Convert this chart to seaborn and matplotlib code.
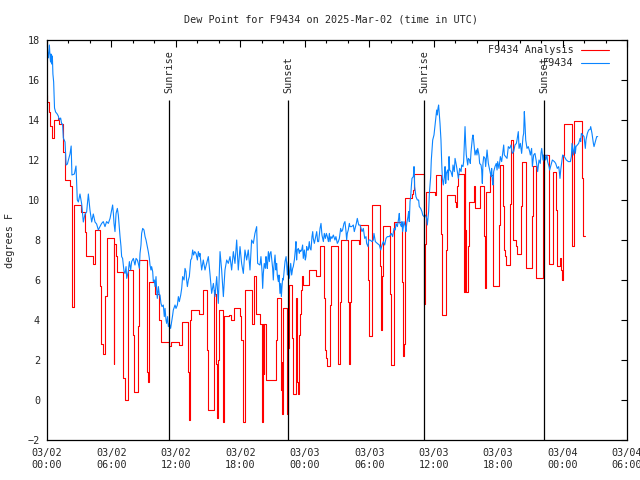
import numpy as np
import pandas as pd
import matplotlib
matplotlib.use("Agg")
import matplotlib.pyplot as plt
import matplotlib.dates as mdates
import seaborn as sns

# ---------------- data ----------------
title = "Dew Point for F9434 on 2025-Mar-02 (time in UTC)"
ylabel = "degrees F"
series_names = ["F9434 Analysis", "F9434"]
start = pd.Timestamp("2025-03-02 00:00")
end = pd.Timestamp("2025-03-04 06:00")

sun_hours = [11.38, 22.45, 35.12, 46.28]
sun_labels = ["Sunrise", "Sunset", "Sunrise", "Sunset"]

# Analysis (step series): hours since start, value
red_hours = [0.00, 0.03, 0.19, 0.28, 0.43, 0.65, 1.05, 1.15, 1.52, 1.68, 2.14, 2.36, 2.50,
             3.20, 3.54, 3.63, 4.31, 4.47, 4.97, 5.06, 5.20, 5.40, 5.55, 6.20, 6.28, 6.42,
             6.55, 7.04, 7.10, 7.26, 7.50, 7.56, 8.04, 8.10, 8.50, 8.60, 9.28, 9.40, 9.50,
             10.06, 10.46, 10.58, 11.39, 11.50, 12.30, 12.54, 13.16, 13.22, 13.30, 13.45,
             14.15, 14.50, 14.90, 15.00, 15.52, 15.62, 15.76, 15.86, 15.93, 16.00, 16.40,
             16.48, 16.95, 17.10, 17.40, 17.95, 18.10, 18.22, 18.40, 19.10, 19.28, 19.42,
             19.86, 20.00, 20.10, 20.18, 20.24, 20.36, 20.43, 21.35, 21.42, 21.76, 21.85,
             21.92, 21.98, 22.30, 22.36, 22.44, 22.50, 22.85, 22.92, 23.16, 23.22, 23.28,
             23.36, 23.44, 23.60, 23.66, 23.72, 23.84, 24.40, 25.00, 25.40, 25.76, 25.85,
             26.00, 26.10, 26.38, 26.44, 27.06, 27.12, 27.31, 27.37, 28.02, 28.12, 28.24,
             28.30, 29.02, 29.10, 29.92, 30.00, 30.22, 30.30, 31.00, 31.06, 31.12, 31.19,
             31.25, 31.95, 32.05, 32.28, 33.02, 33.12, 33.22, 33.30, 33.95, 34.08, 34.15,
             35.08, 35.16, 35.30, 36.12, 36.25, 36.65, 36.74, 36.82, 37.12, 37.22, 37.99,
             38.10, 38.20, 38.28, 38.82, 38.88, 38.95, 39.02, 39.20, 39.30, 39.80, 39.88,
             40.28, 40.35, 40.72, 40.78, 40.85, 41.20, 41.28, 41.50, 42.12, 42.20, 42.45,
             42.55, 42.68, 42.76, 43.12, 43.18, 43.38, 43.70, 43.76, 44.15, 44.22, 44.56,
             44.62, 45.20, 45.27, 45.55, 46.22, 46.70, 46.78, 47.15, 47.40, 47.46, 47.78,
             47.86, 47.95, 48.02, 48.08, 48.16, 48.85, 48.92, 49.10, 49.80, 49.88, 50.10]
red_values = [15.25, 14.9, 14.4, 13.7, 13.1, 14.0, 14.1, 13.8, 12.4, 11.0, 10.7, 4.65, 9.75,
              9.4, 8.4, 7.2, 6.8, 8.5, 5.7, 2.8, 2.3, 5.2, 8.1, 1.8, 7.8, 7.2,
              6.4, 3.75, 1.1, 0.0, 6.0, 6.5, 3.25, 0.4, 3.7, 7.0, 1.4, 0.9, 5.9,
              5.3, 4.0, 2.9, 2.7, 2.9, 2.75, 3.9, 1.4, -1.0, 4.0, 4.5,
              4.3, 5.5, 2.5, -0.5, 5.5, 5.3, 1.8, -0.9, 2.0, 4.5, -1.1,
              4.2, 4.25, 4.0, 4.6, 4.2, 3.0, -1.1, 5.5, 3.8, 6.2, 4.3,
              3.8, -1.1, 3.8, 1.3, 3.8, 2.4, 1.0, 3.0, 5.1, 0.5, 1.9,
              -0.7, 4.6, 1.9, -0.7, 2.6, 5.75, 3.1, 0.3, 2.9, 5.1, 0.9,
              0.3, 3.25, 4.3, 5.5, 6.2, 5.75, 6.5, 6.2, 7.7, 5.1, 2.5,
              2.1, 1.7, 4.75, 7.7, 4.8, 1.8, 4.9, 8.0, 4.9, 1.8, 4.9,
              8.0, 7.8, 8.75, 6.0, 3.2, 6.4, 9.75, 6.7, 6.1, 3.5,
              6.2, 8.7, 5.3, 1.75, 8.9, 5.9, 2.2, 2.8, 10.1, 10.3, 10.5,
              11.3, 4.8, 7.8, 10.4, 10.25, 11.25, 8.3, 4.8, 4.25, 7.5, 10.25,
              9.9, 9.67, 10.7, 11.3, 5.4, 11.6, 8.5, 5.4, 7.7, 9.9, 10.7,
              9.6, 10.2, 10.7, 8.2, 5.6, 10.4, 10.8, 11.25, 5.7, 8.75, 11.75,
              9.7, 7.5, 7.2, 6.75, 9.8, 13.0, 8.0, 7.7, 7.3, 9.7, 11.9,
              9.25, 6.6, 9.2, 11.7, 6.1, 12.25, 9.4, 6.8, 11.4, 9.5, 6.7,
              7.1, 6.5, 6.0, 9.75, 12.25, 13.8, 10.75, 7.7, 13.97, 11.1, 8.2, 8.2]

# Observations
blue_hours = [0.00, 0.03, 0.10, 0.15, 0.22, 0.28, 0.33, 0.37, 0.43, 0.50, 0.55, 0.62, 0.70,
              0.80, 0.95, 1.05, 1.15, 1.27, 1.37, 1.45, 1.52, 1.68, 1.78, 1.90, 1.99, 2.14,
              2.25, 2.32, 2.55, 2.70, 2.82, 2.92, 3.07, 3.23, 3.38, 3.54, 3.69, 3.85, 4.00,
              4.16, 4.31, 4.47, 4.62, 4.78,
              4.93, 5.09, 5.24, 5.40, 5.55, 5.71, 5.87, 6.02, 6.11, 6.18, 6.24, 6.33, 6.43,
              6.55, 6.64, 6.80, 6.89, 6.95, 7.04, 7.17, 7.26, 7.36, 7.42, 7.57, 7.67, 7.79,
              7.88, 8.04, 8.19, 8.29, 8.41, 8.50, 8.60, 8.66, 8.75, 8.81, 8.91, 9.03, 9.13,
              9.22, 9.34, 9.43, 9.53, 9.59, 9.68, 9.74, 9.84, 9.90, 9.99, 10.06, 10.15,
              10.21, 10.27, 10.37, 10.46, 10.52, 10.61, 10.71, 10.83, 10.92, 10.99, 11.08,
              11.14, 11.23, 11.30, 11.39, 11.51, 11.61, 11.70, 11.76, 11.92, 12.01, 12.14,
              12.23, 12.32, 12.45, 12.54, 12.63, 12.76, 12.85, 12.94, 13.00, 13.07, 13.16,
              13.25, 13.38, 13.47, 13.56, 13.65, 13.75, 13.87, 14.00, 14.09, 14.19, 14.24,
              14.40, 14.55, 14.71, 14.86, 15.02, 15.17, 15.33, 15.49, 15.64, 15.80, 15.95,
              16.11, 16.26, 16.42, 16.57, 16.73, 16.88, 17.04, 17.19, 17.35, 17.50, 17.66,
              17.81, 17.97, 18.12, 18.28, 18.43, 18.59, 18.74, 18.90, 19.05, 19.21, 19.36,
              19.52, 19.61,
              19.83, 19.92, 20.02, 20.08, 20.14, 20.23, 20.33, 20.39, 20.45, 20.51, 20.61,
              20.70, 20.76, 20.85, 20.95, 21.01, 21.07, 21.13, 21.23, 21.32, 21.38, 21.44,
              21.54, 21.60, 21.69, 21.76, 21.82, 21.88, 21.94, 22.00, 22.07, 22.16, 22.26,
              22.31, 22.38, 22.47, 22.56, 22.63, 22.69, 22.78, 22.87, 22.93, 23.03, 23.12,
              23.18, 23.24, 23.30, 23.40, 23.49, 23.55, 23.61, 23.71, 23.80, 23.86, 23.96,
              24.05, 24.11, 24.18, 24.24, 24.33, 24.42, 24.49, 24.58, 24.67, 24.74, 24.79,
              24.89, 24.98, 25.11, 25.20, 25.29, 25.42, 25.51, 25.60, 25.67, 25.73, 25.82,
              25.92, 26.01, 26.10, 26.20, 26.29, 26.35, 26.44, 26.53, 26.66, 26.81, 26.90,
              26.97, 27.03, 27.12, 27.22, 27.28, 27.34, 27.43, 27.52, 27.65, 27.74, 27.84,
              27.90, 27.96, 28.05, 28.15,
              28.21, 28.37, 28.52, 28.61, 28.80, 28.89, 29.02, 29.14, 29.33, 29.45, 29.58,
              29.70, 29.76, 29.89, 29.95, 30.07, 30.26, 30.38, 30.44, 30.57, 30.75, 30.94,
              31.07, 31.19, 31.31, 31.44, 31.56, 31.69, 31.87, 32.06, 32.18, 32.31, 32.43,
              32.49, 32.62, 32.74, 32.80, 32.86, 32.99, 33.05, 33.11, 33.24, 33.36, 33.42,
              33.49, 33.61, 33.67, 33.73, 33.80, 33.86, 33.92, 33.98, 34.11, 34.17, 34.23,
              34.35, 34.48, 34.60, 34.66, 34.79, 34.91, 34.98, 35.10, 35.22, 35.35, 35.41,
              35.53, 35.60, 35.72, 35.78, 35.91, 36.03, 36.15, 36.28, 36.34, 36.40, 36.46,
              36.53, 36.59,
              36.68, 36.75, 36.81, 36.90, 37.00, 37.06, 37.12, 37.18, 37.30, 37.37, 37.43,
              37.49, 37.61, 37.74, 37.80, 37.92, 37.99, 38.11, 38.23, 38.30, 38.42, 38.55,
              38.61, 38.73, 38.79, 38.86, 38.92, 38.98, 39.04, 39.17, 39.23, 39.35, 39.41,
              39.48, 39.60, 39.66, 39.72, 39.79, 39.85, 39.97, 40.03, 40.10, 40.22, 40.28,
              40.41, 40.47, 40.53, 40.59, 40.66, 40.78, 40.84, 40.97, 41.09, 41.21, 41.34,
              41.40, 41.46, 41.52, 41.59, 41.71, 41.83, 41.90, 41.96, 42.08, 42.21, 42.33,
              42.46, 42.52, 42.58, 42.70, 42.83, 42.95, 43.08, 43.20, 43.32, 43.45, 43.57,
              43.70, 43.76, 43.88, 43.95, 44.07, 44.19, 44.32, 44.38, 44.44, 44.50, 44.57,
              44.69, 44.81, 44.94, 45.00, 45.12, 45.19, 45.31, 45.43, 45.56, 45.68, 45.81,
              45.93, 45.99, 46.06, 46.18, 46.24, 46.30, 46.37, 46.43, 46.55, 46.61, 46.74,
              46.80, 46.93, 47.05, 47.24, 47.36, 47.51, 47.64, 47.70, 47.76, 47.83, 47.95,
              48.01, 48.17, 48.35, 48.54, 48.73, 48.82, 48.88, 49.00, 49.13, 49.19, 49.25,
              49.38, 49.50, 49.63, 49.69, 49.75, 49.87, 50.00, 50.12, 50.18, 50.31, 50.43,
              50.56, 50.62, 50.74, 50.87, 50.93, 51.05, 51.18, 51.27]
blue_values = [16.8, 17.5, 17.1, 17.3, 17.75, 17.2, 16.9, 17.3, 16.8, 17.2, 16.3, 15.9, 14.6,
               14.4, 14.3, 14.2, 14.0, 14.1, 13.8, 13.8, 13.1, 12.9, 11.75, 11.8, 12.0, 12.3,
               12.7, 11.25, 11.3, 11.7, 10.0, 9.9, 10.3, 9.8, 8.9, 9.3, 9.4, 10.3, 9.5,
               8.9, 9.3, 8.9, 8.8, 8.5,
               8.67, 8.83, 8.92, 8.67, 8.92, 8.83, 9.08, 9.5, 9.75, 9.33, 8.83, 8.42, 9.33,
               9.58, 9.25, 8.17, 7.67, 7.17, 7.08, 6.42, 6.33, 6.67, 6.08, 6.42, 6.92, 6.5,
               6.92, 7.08, 6.75, 7.08, 7.0, 6.83, 6.58, 7.33, 7.75, 8.33, 8.58, 8.5, 8.17,
               8.0, 7.67, 7.42, 7.08, 6.75, 6.5, 6.67, 6.42, 5.92, 6.0, 5.67, 6.17,
               5.5, 5.08, 5.67, 5.25, 5.25, 4.83, 4.67, 4.75, 4.17, 4.58, 4.0,
               3.83, 4.17, 3.67, 3.83, 3.58, 3.92, 4.25, 4.5, 4.75, 4.58, 4.75,
               5.17, 4.92, 5.25, 5.58, 6.17, 6.0, 6.58, 6.42, 6.0, 5.67, 6.0,
               6.17, 7.0, 7.08, 7.5, 7.25, 7.42, 7.33, 7.0, 7.42, 7.17, 7.33,
               6.5, 7.0, 6.5, 6.83, 7.17, 6.33, 5.33, 5.83, 5.17, 6.17, 4.83,
               7.42, 6.5, 5.17, 6.5, 7.0, 6.83, 7.17, 6.5, 7.42, 6.83, 8.0,
               6.5, 7.67, 6.83, 6.33, 7.5, 7.0, 7.5, 6.5, 8.0, 7.83, 8.33,
               8.67, 6.83,
               6.75, 7.17, 6.42, 5.58, 6.33, 6.83, 6.58, 7.17, 6.83, 6.58, 7.42,
               6.92, 7.33, 7.42, 6.92, 6.58, 6.0, 6.67, 7.25, 6.5, 6.83, 6.25,
               5.92, 6.25, 5.33, 5.83, 5.17, 5.67, 6.08, 6.0, 6.42, 6.92, 7.17,
               6.83, 6.25, 6.92, 6.08, 6.5, 6.83, 6.25, 6.58, 6.67, 7.0, 7.5,
               7.92, 7.0, 7.5, 7.58, 7.33, 7.5, 7.42, 7.5, 7.75, 7.08, 7.5,
               7.0, 7.17, 7.67, 7.5, 7.5, 7.92, 7.58, 7.5, 8.17, 8.42, 8.08,
               7.83, 8.08, 8.42, 7.92, 7.92, 8.58, 8.83, 8.25, 8.08, 7.92, 8.33,
               8.08, 8.33, 8.17, 7.92, 8.33, 7.92, 8.17, 8.08, 8.25, 8.0, 8.17,
               8.0, 7.83, 7.92, 8.08, 8.33, 8.58, 8.42, 8.5, 8.83, 8.92, 8.42,
               8.0, 8.33, 8.5, 8.83,
               8.67, 8.67, 8.75, 8.42, 8.83, 9.08, 8.75, 8.75, 8.42, 8.58, 8.08,
               8.17, 7.83, 7.67, 8.0, 8.0, 7.92, 8.0, 8.33, 7.92, 7.83, 7.75,
               7.5, 7.75, 7.92, 7.75, 8.08, 8.17, 8.17, 8.33, 8.17, 8.58, 8.5,
               8.83, 8.67, 9.08, 9.33, 8.83, 8.67, 8.92, 8.42, 8.92, 8.67, 8.42,
               8.83, 9.17, 9.42, 8.92, 9.92, 10.17, 10.67, 11.08, 11.17, 11.67, 10.67,
               10.17, 10.0, 10.0, 9.67, 9.58, 9.42, 9.25, 9.17, 9.25, 9.08, 8.75,
               9.42, 10.33, 11.17, 12.0, 13.0, 13.25, 13.83, 14.5, 14.25, 14.58, 14.75,
               14.25, 13.83,
               13.0, 11.83, 11.08, 10.75, 11.17, 11.67, 10.83, 11.33, 11.5, 11.0, 12.17,
               11.5, 11.42, 11.17, 11.75, 11.42, 12.08, 11.75, 11.33, 11.08, 11.58, 11.42,
               11.75, 11.67, 11.92, 12.92, 13.67, 12.83, 12.25, 11.75, 12.08, 12.0, 11.83,
               12.42, 13.08, 13.25, 13.0, 12.58, 12.25, 12.5, 12.25, 12.58, 12.25, 11.83,
               11.75, 11.5, 10.83, 11.83, 12.17, 12.08, 11.67, 12.5, 11.83, 11.5, 11.17,
               11.58, 11.0, 10.75, 11.42, 11.67, 11.83, 11.5, 11.92, 11.58, 12.17, 11.92,
               12.5, 12.75, 12.25, 12.17, 12.08, 12.67, 12.58, 12.75, 12.33, 12.42, 12.75,
               12.83, 13.0, 13.42, 12.58, 12.83, 12.33, 13.17, 13.33, 14.42, 13.83, 13.0,
               12.58, 12.67, 12.42, 12.25, 12.58, 11.67, 12.25, 12.33, 11.92, 11.42, 12.0,
               11.83, 12.33, 12.58, 12.0, 12.25, 11.92, 12.25, 12.0, 12.25, 11.92, 11.67,
               11.5, 11.75, 12.0, 11.92, 11.83, 11.58, 11.67, 11.42, 11.08, 11.5, 12.0,
               12.25, 12.17, 12.0, 11.92, 11.92, 12.17, 12.83, 12.25, 12.75, 12.33, 12.67,
               12.75, 12.83, 13.08, 12.92, 13.33, 13.25, 13.17, 12.58, 13.0, 13.33, 13.5,
               13.53, 13.67, 13.33, 12.83, 12.67, 12.92, 13.17, 13.17]

y_ticks = list(range(-2, 19, 2))

# ---------------- figure ----------------
sns.set_style("white")
plt.rcParams["font.family"] = ["DejaVu Sans Mono", "DejaVu Sans"]
FS = 7.3

red_df = pd.DataFrame({"time": start + pd.to_timedelta(red_hours, unit="h"),
                       "value": red_values})
blue_df = pd.DataFrame({"time": start + pd.to_timedelta(blue_hours, unit="h"),
                        "value": blue_values})

fig = plt.figure(figsize=(6.4, 4.8), dpi=100)
ax = fig.add_axes([47 / 640, 40 / 480, 580 / 640, 400 / 480])

sns.lineplot(data=red_df, x="time", y="value", ax=ax, color="#ff0000", lw=0.8,
             drawstyle="steps-post", estimator=None, sort=False, legend=False)
sns.lineplot(data=blue_df, x="time", y="value", ax=ax, color="#0a84ff", lw=0.8,
             estimator=None, sort=False, legend=False)

sun_times = [start + pd.Timedelta(hours=h) for h in sun_hours]
ax.vlines(sun_times, -2, 15, color="black", lw=0.9)
for t, lab in zip(sun_times, sun_labels):
    ax.text(t, 15.35, lab, rotation=90, ha="center", va="bottom", fontsize=FS)

ax.set_xlim(start, end)
ax.set_ylim(-2, 18)
ax.set_yticks(y_ticks)
ax.xaxis.set_major_locator(mdates.HourLocator(byhour=[0, 6, 12, 18]))
ax.xaxis.set_major_formatter(mdates.DateFormatter("%m/%d\n%H:%M"))
ax.xaxis.set_minor_locator(mdates.HourLocator(byhour=list(range(0, 24, 2))))
ax.tick_params(which="both", direction="in", top=True, right=True, labelsize=FS,
               width=0.8, color="black")
ax.tick_params(axis="x", which="major", length=5, pad=6)
ax.tick_params(axis="x", which="minor", length=2.5)
ax.tick_params(axis="y", which="major", length=4, pad=5)
ax.set_xlabel("")
ax.set_ylabel("")
for s in ax.spines.values():
    s.set_color("black")
    s.set_linewidth(0.9)

# legend (top-right, text right-aligned before the sample line)
leg_rows = [(0.975, series_names[0], "#ff0000"), (0.9425, series_names[1], "#0a84ff")]
for yy, name, col in leg_rows:
    ax.text(0.9086, yy, name, transform=ax.transAxes, ha="right", va="center", fontsize=FS)
    ax.plot([0.9207, 0.969], [yy, yy], transform=ax.transAxes, color=col, lw=0.8)

fig.text(331 / 640, 1 - 20 / 480, title, ha="center", va="center", fontsize=FS)
fig.text(10 / 640, 0.5, ylabel, rotation=90, ha="center", va="center", fontsize=FS)

fig.savefig("out.png", dpi=100)
